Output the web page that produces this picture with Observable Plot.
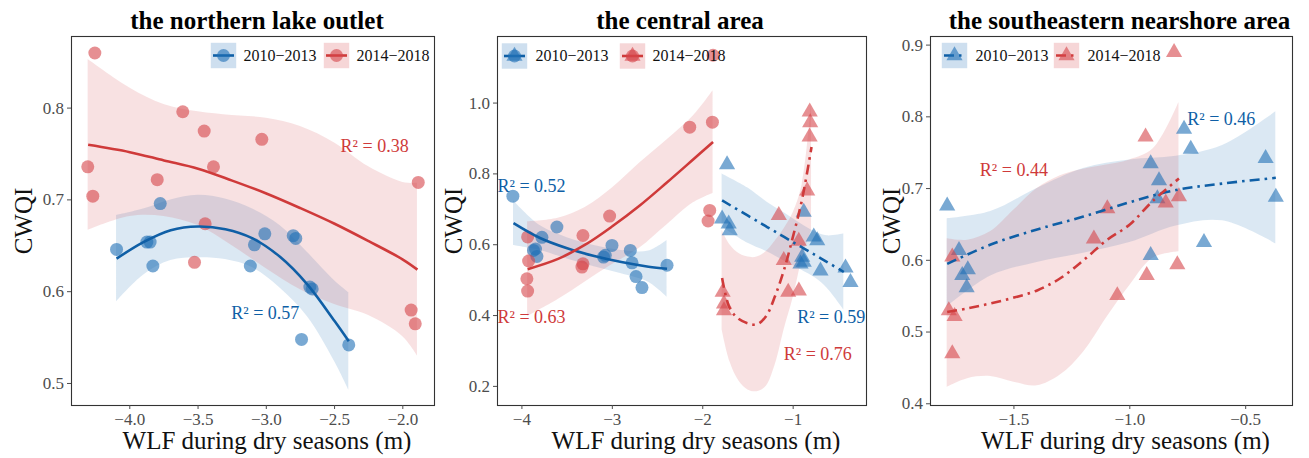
<!DOCTYPE html>
<html><head><meta charset="utf-8">
<script src="https://cdn.jsdelivr.net/npm/d3@7"></script>
<script src="https://cdn.jsdelivr.net/npm/@observablehq/plot@0.6"></script>
<style>
body{margin:0;background:#fff;}
#wrap{display:flex;width:1309px;height:458px;overflow:hidden;}
#wrap svg{display:block;}
#wrap svg text{font-family:'Liberation Serif','Times New Roman',serif;}
</style>
</head><body><div id="wrap"></div>
<script>
// ---------- data ----------
const SERIES = ["2010\u22122013", "2014\u22122018"];
const R2_TEXT = ["R\u00b2 = 0.57", "R\u00b2 = 0.38", "R\u00b2 = 0.52", "R\u00b2 = 0.63", "R\u00b2 = 0.59", "R\u00b2 = 0.76", "R\u00b2 = 0.46", "R\u00b2 = 0.44"];
const TITLES = ["the northern lake outlet", "the central area", "the southeastern nearshore area"];

// Panel 1: the northern lake outlet
const P1_BLUE_X = [-4.097, -3.875, -3.851, -3.831, -3.777, -3.117, -3.087, -3.011, -2.803, -2.784, -2.681, -2.664, -2.742, -2.396];
const P1_BLUE_Y = [0.646, 0.654, 0.654, 0.628, 0.696, 0.628, 0.651, 0.663, 0.661, 0.658, 0.605, 0.603, 0.548, 0.542];
const P1_RED_X = [-4.256, -4.308, -4.271, -3.612, -3.455, -3.387, -3.799, -3.033, -3.448, -3.526, -1.887, -1.939, -1.909];
const P1_RED_Y = [0.860, 0.736, 0.704, 0.796, 0.775, 0.736, 0.722, 0.766, 0.674, 0.632, 0.719, 0.580, 0.565];
const P1_BLUE_FX = [-4.097, -3.9, -3.7, -3.5, -3.3, -3.1, -2.9, -2.7, -2.5, -2.396];
const P1_BLUE_FY = [0.636, 0.654, 0.667, 0.671, 0.668, 0.658, 0.638, 0.608, 0.568, 0.546];
const P1_BLUE_LO = [0.589, 0.618, 0.634, 0.637, 0.635, 0.626, 0.604, 0.573, 0.524, 0.493];
const P1_BLUE_HI = [0.683, 0.690, 0.700, 0.705, 0.701, 0.690, 0.672, 0.643, 0.612, 0.599];
const P1_RED_FX = [-4.305, -4.0, -3.75, -3.5, -3.25, -3.0, -2.75, -2.5, -2.25, -2.0, -1.893];
const P1_RED_FY = [0.760, 0.752, 0.743, 0.734, 0.721, 0.707, 0.691, 0.674, 0.655, 0.635, 0.624];
const P1_RED_LO = [0.667, 0.682, 0.682, 0.672, 0.650, 0.625, 0.602, 0.586, 0.574, 0.551, 0.530];
const P1_RED_HI = [0.853, 0.822, 0.804, 0.796, 0.792, 0.789, 0.780, 0.762, 0.736, 0.719, 0.718];

// Panel 2: the central area (circles = left group, triangles = right group)
const P2_BLUE_CX = [-4.10, -3.872, -3.85, -3.834, -3.779, -3.613, -3.097, -3.078, -3.004, -2.801, -2.782, -2.738, -2.672, -2.395];
const P2_BLUE_CY = [0.737, 0.584, 0.588, 0.567, 0.621, 0.650, 0.565, 0.570, 0.598, 0.584, 0.549, 0.510, 0.479, 0.542];
const P2_RED_CX = [-3.937, -3.926, -3.945, -3.937, -3.325, -3.325, -3.336, -3.030, -2.144, -1.893, -1.886, -1.923, -1.941];
const P2_RED_CY = [0.622, 0.554, 0.504, 0.469, 0.626, 0.546, 0.537, 0.681, 0.932, 0.946, 1.135, 0.697, 0.667];
const P2_BLUE_TX = [-1.731, -1.786, -1.713, -1.702, -0.883, -0.772, -0.734, -0.900, -0.883, -0.919, -0.698, -0.421, -0.366];
const P2_BLUE_TY = [0.826, 0.673, 0.659, 0.640, 0.692, 0.622, 0.612, 0.565, 0.551, 0.546, 0.526, 0.535, 0.494];
const P2_RED_TX = [-0.817, -0.812, -0.818, -0.845, -1.159, -0.938, -1.104, -1.055, -0.937, -1.78, -1.765, -1.765];
const P2_RED_TY = [0.975, 0.945, 0.905, 0.752, 0.683, 0.610, 0.556, 0.466, 0.470, 0.466, 0.433, 0.414];
const P2_BLUE_CFX = [-4.093, -3.8, -3.5, -3.2, -2.9, -2.6, -2.395];
const P2_BLUE_CFY = [0.661, 0.619, 0.590, 0.568, 0.551, 0.538, 0.532];
const P2_BLUE_CLO = [0.598, 0.584, 0.560, 0.538, 0.518, 0.494, 0.452];
const P2_BLUE_CHI = [0.724, 0.654, 0.620, 0.598, 0.584, 0.582, 0.612];
const P2_RED_CFX = [-3.937, -3.6, -3.3, -3.0, -2.7, -2.4, -2.1, -1.886];
const P2_RED_CFY = [0.531, 0.560, 0.600, 0.652, 0.710, 0.775, 0.842, 0.890];
const P2_RED_CLO = [0.397, 0.445, 0.495, 0.544, 0.590, 0.655, 0.719, 0.745];
const P2_RED_CHI = [0.665, 0.675, 0.705, 0.760, 0.830, 0.895, 0.965, 1.035];
const P2_BLUE_TFX = [-1.786, -1.5, -1.288, -1.1, -0.919, -0.75, -0.624, -0.44];
const P2_BLUE_TFY = [0.725, 0.682, 0.650, 0.622, 0.595, 0.570, 0.551, 0.523];
const P2_BLUE_TLO = [0.650, 0.604, 0.580, 0.554, 0.530, 0.505, 0.477, 0.416];
const P2_BLUE_THI = [0.800, 0.760, 0.720, 0.690, 0.660, 0.635, 0.625, 0.630];
const P2_RED_TFX = [-1.786, -1.7, -1.6, -1.5, -1.4, -1.3, -1.2, -1.1, -1.0, -0.9, -0.797];
const P2_RED_TFY = [0.506, 0.420, 0.390, 0.378, 0.375, 0.398, 0.455, 0.530, 0.625, 0.730, 0.876];
const P2_RED_TLO = [0.360, 0.270, 0.215, 0.190, 0.185, 0.200, 0.260, 0.360, 0.450, 0.560, 0.640];
const P2_RED_THI = [0.640, 0.600, 0.575, 0.565, 0.565, 0.580, 0.610, 0.645, 0.690, 0.770, 1.000];

// Panel 3: the southeastern nearshore area
const P3_BLUE_X = [-1.788, -1.737, -1.723, -1.699, -1.704, -0.910, -0.874, -0.881, -0.910, -0.766, -0.737, -0.680, -0.414, -0.370];
const P3_BLUE_Y = [0.676, 0.614, 0.579, 0.587, 0.562, 0.735, 0.711, 0.686, 0.607, 0.783, 0.755, 0.625, 0.742, 0.688];
const P3_RED_X = [-1.781, -1.756, -1.766, -1.766, -1.097, -1.155, -1.054, -0.932, -0.927, -0.845, -0.788, -0.795, -0.809];
const P3_RED_Y = [0.530, 0.522, 0.605, 0.470, 0.672, 0.630, 0.551, 0.772, 0.579, 0.680, 0.689, 0.594, 0.890];
const P3_BLUE_FX = [-1.788, -1.6, -1.4, -1.2, -1.0, -0.8, -0.6, -0.37];
const P3_BLUE_FY = [0.595, 0.622, 0.643, 0.661, 0.681, 0.698, 0.707, 0.715];
const P3_BLUE_LO = [0.535, 0.578, 0.597, 0.610, 0.625, 0.648, 0.655, 0.623];
const P3_BLUE_HI = [0.658, 0.668, 0.700, 0.728, 0.740, 0.745, 0.760, 0.807];
const P3_RED_FX = [-1.788, -1.7, -1.6, -1.5, -1.4, -1.3, -1.2, -1.1, -1.0, -0.9, -0.788];
const P3_RED_FY = [0.528, 0.533, 0.540, 0.548, 0.558, 0.575, 0.600, 0.628, 0.650, 0.683, 0.714];
const P3_RED_LO = [0.423, 0.435, 0.438, 0.430, 0.425, 0.440, 0.472, 0.520, 0.565, 0.603, 0.612];
const P3_RED_HI = [0.630, 0.628, 0.640, 0.670, 0.700, 0.718, 0.727, 0.733, 0.740, 0.755, 0.820];

// tick values
const P1_XTICKS = [-4.0, -3.5, -3.0, -2.5, -2.0];
const P1_YTICKS = [0.5, 0.6, 0.7, 0.8];
const P2_XTICKS = [-4, -3, -2, -1];
const P2_YTICKS = [0.2, 0.4, 0.6, 0.8, 1.0];
const P3_XTICKS = [-1.5, -1.0, -0.5];
const P3_YTICKS = [0.4, 0.5, 0.6, 0.7, 0.8, 0.9];

// ---------- styling ----------
const FONT = "'Liberation Serif','Times New Roman',serif";
const BLUE = "#1F6FB5", RED = "#D6454A";
const BLUE_L = "#0F5FA6", RED_L = "#CF3A3A";
const DOTDASH = "10,5,2.5,5";
const XLAB = "WLF during dry seasons (m)", YLAB = "CWQI";

const idx = a => a.map((_, i) => i);
const band = (X, LO, HI, c) => Plot.areaY(idx(X), {x: i => X[i], y1: i => LO[i], y2: i => HI[i], fill: c, fillOpacity: 0.16, curve: "catmull-rom"});
const fit = (X, Y, c, dash) => Plot.line(idx(X), {x: i => X[i], y: i => Y[i], stroke: c, strokeWidth: 2.6, curve: "catmull-rom", strokeDasharray: dash, strokeLinecap: "butt"});
const pts = (X, Y, c, sym) => Plot.dot(idx(X), {x: i => X[i], y: i => Y[i], r: sym === "triangle" ? 6 : 6.5, symbol: sym, fill: c, fillOpacity: 0.6, stroke: "none"});
const r2 = (x, y, t, c) => Plot.text([{x, y, t}], {x: "x", y: "y", text: "t", fill: c, fontSize: 18, textAnchor: "start", fontFamily: FONT});

const SQ = {draw(ctx, size) { const r = Math.sqrt(size / Math.PI); ctx.rect(-r, -r, 2 * r, 2 * r); }};
const HL = {draw(ctx, size) { const r = Math.sqrt(size / Math.PI); ctx.moveTo(-r, 0); ctx.lineTo(r, 0); }};

function legendItem(dx, tdx, dy, c, cl, shapes, dash, label) {
  const o = {frameAnchor: "top-left", dx, dy};
  const m = [
    Plot.dot([0], {...o, r: 12.7, symbol: SQ, fill: c, fillOpacity: 0.22, stroke: "none"}),
    Plot.dot([0], {...o, r: 10.5, symbol: HL, fill: "none", stroke: cl, strokeWidth: 2.6, strokeDasharray: dash})
  ];
  for (const s of shapes) m.push(Plot.dot([0], {...o, r: s === "triangle" ? 6 : 6.5, symbol: s, fill: c, fillOpacity: 0.6, stroke: "none"}));
  m.push(Plot.text([label], {frameAnchor: "top-left", dx: tdx, dy, text: d => d, textAnchor: "start", lineAnchor: "middle", fontSize: 16, fill: "#111", fontFamily: FONT}));
  return m;
}

function panel(o) {
  return Plot.plot({
    width: o.width, height: 458,
    marginTop: 36, marginBottom: 53, marginLeft: o.ml, marginRight: o.mr,
    style: {fontFamily: FONT, background: "white", overflow: "visible"},
    x: {domain: o.xd}, y: {domain: o.yd},
    marks: [
      ...o.marks,
      Plot.frame({stroke: "#333", strokeWidth: 1.1}),
      Plot.axisX({ticks: o.xt, tickFormat: o.xf, tickSize: 4, tickPadding: 3, fontSize: 17, fontFamily: FONT, label: null, color: "#4d4d4d"}),
      Plot.axisY({ticks: o.yt, tickFormat: o.yf, tickSize: 4, tickPadding: 3.5, fontSize: 17, fontFamily: FONT, label: null, color: "#4d4d4d"}),
      Plot.text([o.title], {frameAnchor: "top", dy: -16, dx: o.tdx || 0, text: d => d, fontSize: 25, fontWeight: "bold", lineAnchor: "middle", fill: "#000", fontFamily: FONT}),
      Plot.text([XLAB], {frameAnchor: "bottom", dy: 35, dx: 14, text: d => d, fontSize: 25, lineAnchor: "middle", fill: "#111", fontFamily: FONT}),
      Plot.text([YLAB], {frameAnchor: "left", dx: o.ydx, text: d => d, fontSize: 25, rotate: -90, lineAnchor: "middle", textAnchor: "middle", fill: "#111", fontFamily: FONT})
    ]
  });
}

const f1 = d3.format(".1f"), f0 = d3.format("d");

const p1 = panel({
  width: 440, ml: 71, mr: 6, xd: [-4.427, -1.768], yd: [0.476, 0.878],
  xt: P1_XTICKS, xf: f1, yt: P1_YTICKS, yf: f1, title: TITLES[0], ydx: -48, tdx: 4,
  marks: [
    band(P1_BLUE_FX, P1_BLUE_LO, P1_BLUE_HI, BLUE),
    band(P1_RED_FX, P1_RED_LO, P1_RED_HI, RED),
    pts(P1_BLUE_X, P1_BLUE_Y, BLUE, "circle"),
    pts(P1_RED_X, P1_RED_Y, RED, "circle"),
    fit(P1_BLUE_FX, P1_BLUE_FY, BLUE_L),
    fit(P1_RED_FX, P1_RED_FY, RED_L),
    r2(-3.257, 0.577, R2_TEXT[0], BLUE_L),
    r2(-2.456, 0.758, R2_TEXT[1], RED_L),
    ...legendItem(152, 172, 19, BLUE, BLUE_L, ["circle"], null, SERIES[0]),
    ...legendItem(265, 285, 19, RED, RED_L, ["circle"], null, SERIES[1])
  ]
});

const p2 = panel({
  width: 430, ml: 57, mr: 4, xd: [-4.27, -0.189], yd: [0.146, 1.188],
  xt: P2_XTICKS, xf: f0, yt: P2_YTICKS, yf: f1, title: TITLES[1], ydx: -44, tdx: -2,
  marks: [
    band(P2_BLUE_CFX, P2_BLUE_CLO, P2_BLUE_CHI, BLUE),
    band(P2_RED_CFX, P2_RED_CLO, P2_RED_CHI, RED),
    band(P2_BLUE_TFX, P2_BLUE_TLO, P2_BLUE_THI, BLUE),
    band(P2_RED_TFX, P2_RED_TLO, P2_RED_THI, RED),
    pts(P2_BLUE_CX, P2_BLUE_CY, BLUE, "circle"),
    pts(P2_RED_CX, P2_RED_CY, RED, "circle"),
    pts(P2_BLUE_TX, P2_BLUE_TY, BLUE, "triangle"),
    pts(P2_RED_TX, P2_RED_TY, RED, "triangle"),
    fit(P2_BLUE_CFX, P2_BLUE_CFY, BLUE_L),
    fit(P2_RED_CFX, P2_RED_CFY, RED_L),
    fit(P2_BLUE_TFX, P2_BLUE_TFY, BLUE_L, DOTDASH),
    fit(P2_RED_TFX, P2_RED_TFY, RED_L, DOTDASH),
    r2(-4.27, 0.765, R2_TEXT[2], BLUE_L),
    r2(-4.27, 0.394, R2_TEXT[3], RED_L),
    r2(-0.956, 0.394, R2_TEXT[4], BLUE_L),
    r2(-1.104, 0.290, R2_TEXT[5], RED_L),
    ...legendItem(17, 38, 19.5, BLUE, BLUE_L, ["circle", "triangle"], null, SERIES[0]),
    ...legendItem(135, 155, 19.5, RED, RED_L, ["circle", "triangle"], null, SERIES[1])
  ]
});

const p3 = panel({
  width: 439, ml: 60, mr: 17, xd: [-1.86, -0.298], yd: [0.3976, 0.912],
  xt: P3_XTICKS, xf: f1, yt: P3_YTICKS, yf: f1, title: TITLES[2], ydx: -39, tdx: 8,
  marks: [
    band(P3_BLUE_FX, P3_BLUE_LO, P3_BLUE_HI, BLUE),
    band(P3_RED_FX, P3_RED_LO, P3_RED_HI, RED),
    pts(P3_BLUE_X, P3_BLUE_Y, BLUE, "triangle"),
    pts(P3_RED_X, P3_RED_Y, RED, "triangle"),
    fit(P3_BLUE_FX, P3_BLUE_FY, BLUE_L, DOTDASH),
    fit(P3_RED_FX, P3_RED_FY, RED_L, DOTDASH),
    r2(-0.752, 0.796, R2_TEXT[6], BLUE_L),
    r2(-1.647, 0.726, R2_TEXT[7], RED_L),
    ...legendItem(24, 45, 19, BLUE, BLUE_L, ["triangle"], DOTDASH, SERIES[0]),
    ...legendItem(136, 157, 19, RED, RED_L, ["triangle"], DOTDASH, SERIES[1])
  ]
});

const wrap = document.getElementById("wrap");
wrap.append(p1, p2, p3);
</script>
</body></html>
